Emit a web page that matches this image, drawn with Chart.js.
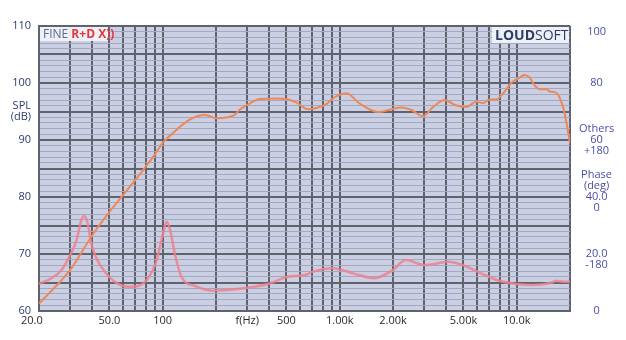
<!DOCTYPE html>
<html lang="en">
<head>
    <meta charset="UTF-8">
    <title>SPL / Others</title>
    <script src="https://cdn.jsdelivr.net/npm/chart.js"></script>
    <style>
        body {
            margin: 0;
            background: #ffffff;
        }
        #wrap {
            width: 626px;
            height: 340px;
        }
    </style>
</head>
<body>
    <div id="wrap">
        <canvas id="splChart" width="626" height="340"></canvas>
    </div>

    <script>
        // SPL curve (dB)
        const splFreq = [20, 30, 40, 50, 60, 70, 80, 90, 100, 117, 125, 139, 158, 175, 200, 233, 255, 272, 310, 353, 439, 500, 569, 662, 737, 838, 935, 1090, 1295, 1650, 1960, 2220, 2530, 2950, 3370, 3920, 4520, 5200, 5900, 6450, 7040, 7660, 8500, 9300, 10230, 11050, 11800, 12620, 13500, 14730, 15380, 16420, 17160, 18320, 19130, 20000];
        const splDb = [61.3, 67.2, 73.3, 77.4, 80.4, 83.0, 85.3, 87.4, 89.5, 91.5, 92.3, 93.4, 94.2, 94.4, 93.8, 94.0, 94.4, 95.3, 96.4, 97.2, 97.3, 97.2, 96.6, 95.4, 95.6, 96.3, 97.5, 98.2, 96.4, 94.9, 95.4, 95.7, 95.3, 94.2, 95.8, 97.0, 96.1, 95.8, 96.7, 96.5, 97.1, 97.1, 98.4, 100.0, 100.8, 101.4, 101.0, 99.6, 98.9, 98.9, 98.5, 98.4, 97.9, 95.6, 92.9, 89.4];

        // "Others" curve (right axis, 0..100)
        const othFreq = [20, 23.5, 26.8, 30, 32.6, 34.7, 35.9, 37.5, 39.5, 42.2, 47, 53.5, 63.7, 72.5, 82.6, 92, 100.5, 105, 109.5, 117, 127.5, 151.6, 196, 255, 393, 510, 635, 706, 919, 1000, 1190, 1570, 2000, 2360, 3030, 4100, 4960, 6190, 7980, 9970, 12190, 15680, 16750, 18320, 20000];
        const othVal = [9.5, 11.5, 14.4, 19.6, 24.9, 31.9, 33.3, 31.3, 23.7, 18.5, 13.8, 10.3, 8.5, 8.8, 11.5, 17.3, 27.3, 31.3, 29.0, 20.2, 12.0, 8.8, 7.1, 7.6, 9.5, 12.0, 12.6, 13.8, 15.0, 14.6, 13.2, 11.5, 14.4, 17.9, 16.1, 17.3, 16.1, 13.4, 10.6, 9.5, 9.1, 9.9, 10.6, 10.3, 10.3];

        // axis ticks and labels
        const freqTicks = [20, 30, 40, 50, 60, 70, 80, 90, 100, 200, 300, 400, 500, 600, 700, 800, 900, 1000, 2000, 3000, 4000, 5000, 6000, 7000, 8000, 9000, 10000, 20000];
        const freqLabels = {20: '20.0     ', 50: '50.0', 100: '100', 300: 'f(Hz)', 500: '500', 1000: '1.00k', 2000: '2.00k', 5000: '5.00k', 10000: '10.0k'};
        const dbLabels = {60: '60', 70: '70', 80: '80', 90: '90', 95: ['SPL', '(dB)'], 100: '100', 110: '110'};
        const rightTicks = [0, 20, 40, 60, 80, 100];
        const rightLabels = {
            0: '0',
            20: ['', '20.0', '-180'],
            40: ['Phase', '(deg)', '40.0', '0', ''],
            60: ['Others', '60', '+180'],
            80: '80',
            100: ['', '100']
        };

        function toPoints(xs, ys) {
            return xs.map((x, i) => ({x: x, y: ys[i]}));
        }

        const plotBackground = {
            id: 'plotBackground',
            beforeDraw(chart) {
                const {ctx, chartArea: a} = chart;
                ctx.save();
                ctx.fillStyle = '#cbcfe3';
                ctx.fillRect(a.left, a.top, a.right - a.left, a.bottom - a.top);
                ctx.restore();
            }
        };

        // the two small logos inside the plot
        const logos = {
            id: 'logos',
            afterDraw(chart) {
                const {ctx, chartArea: a} = chart;
                ctx.save();
                ctx.fillStyle = 'rgba(240,242,248,0.95)';
                ctx.fillRect(a.left + 1, a.top + 1, 68, 14);
                ctx.textBaseline = 'alphabetic';
                ctx.font = '12px "Open Sans", sans-serif';
                ctx.fillStyle = '#5a6c92';
                ctx.fillText('FINE', a.left + 4, a.top + 12);
                let w = ctx.measureText('FINE ').width;
                ctx.font = 'bold 12px "Open Sans", sans-serif';
                ctx.fillStyle = '#e4373d';
                ctx.fillText('R+D X))', a.left + 4 + w, a.top + 12);

                ctx.fillStyle = 'rgba(240,242,248,0.95)';
                ctx.fillRect(a.right - 78, a.top + 1, 77, 16);
                ctx.font = 'bold 14px "Open Sans", sans-serif';
                ctx.fillStyle = '#2c3f66';
                ctx.fillText('LOUD', a.right - 75, a.top + 14);
                w = ctx.measureText('LOUD').width;
                ctx.font = '14px "Open Sans", sans-serif';
                ctx.fillText('SOFT', a.right - 75 + w, a.top + 14);
                ctx.restore();
            }
        };

        const ctx = document.getElementById('splChart').getContext('2d');
        new Chart(ctx, {
            type: 'line',
            data: {
                datasets: [{
                    label: 'SPL',
                    data: toPoints(splFreq, splDb),
                    yAxisID: 'y',
                    borderColor: '#f08757',
                    borderWidth: 2,
                    pointRadius: 0,
                    cubicInterpolationMode: 'monotone'
                }, {
                    label: 'Others',
                    data: toPoints(othFreq, othVal),
                    yAxisID: 'y2',
                    borderColor: 'rgba(240,128,140,0.85)',
                    borderWidth: 2.5,
                    pointRadius: 0,
                    cubicInterpolationMode: 'monotone'
                }]
            },
            options: {
                responsive: false,
                animation: false,
                layout: {padding: {top: 26, left: 0, right: 0, bottom: 0}},
                plugins: {
                    legend: {display: false},
                    tooltip: {enabled: false}
                },
                scales: {
                    x: {
                        type: 'logarithmic',
                        min: 20,
                        max: 20000,
                        afterBuildTicks: (s) => { s.ticks = freqTicks.map(v => ({value: v})); },
                        afterFit: (s) => { s.height = 29; },
                        grid: {
                            color: '#5f636e',
                            lineWidth: 2,
                            drawTicks: false
                        },
                        border: {color: '#5f636e', width: 2},
                        ticks: {
                            autoSkip: false,
                            maxRotation: 0,
                            padding: 3,
                            color: '#2a2a2a',
                            font: {family: '"Open Sans", sans-serif', size: 11},
                            callback: (v) => freqLabels[v] || ''
                        }
                    },
                    y: {
                        position: 'left',
                        min: 60,
                        max: 110,
                        afterBuildTicks: (s) => {
                            const t = [];
                            for (let v = 60; v <= 110; v++) t.push({value: v});
                            s.ticks = t;
                        },
                        afterFit: (s) => { s.width = 39; },
                        grid: {
                            color: (c) => c.tick && c.tick.value % 5 === 0 ? '#5f636e' : '#a3a8bf',
                            lineWidth: (c) => c.tick && c.tick.value % 5 === 0 ? 2 : 1,
                            drawTicks: false
                        },
                        border: {color: '#5f636e', width: 2},
                        ticks: {
                            autoSkip: false,
                            padding: 8,
                            color: '#2b3c6c',
                            font: {family: '"Open Sans", sans-serif', size: 11, lineHeight: 1},
                            callback: (v) => dbLabels[v] || ''
                        }
                    },
                    y2: {
                        position: 'right',
                        min: 0,
                        max: 100,
                        afterBuildTicks: (s) => { s.ticks = rightTicks.map(v => ({value: v})); },
                        afterFit: (s) => { s.width = 56; },
                        grid: {display: false, drawTicks: false},
                        border: {display: false},
                        ticks: {
                            autoSkip: false,
                            padding: 9,
                            crossAlign: 'center',
                            color: '#4a4ea6',
                            font: {family: '"Open Sans", sans-serif', size: 11, lineHeight: 1},
                            callback: (v) => rightLabels[v]
                        }
                    }
                }
            },
            plugins: [plotBackground, logos]
        });
    </script>
</body>
</html>
